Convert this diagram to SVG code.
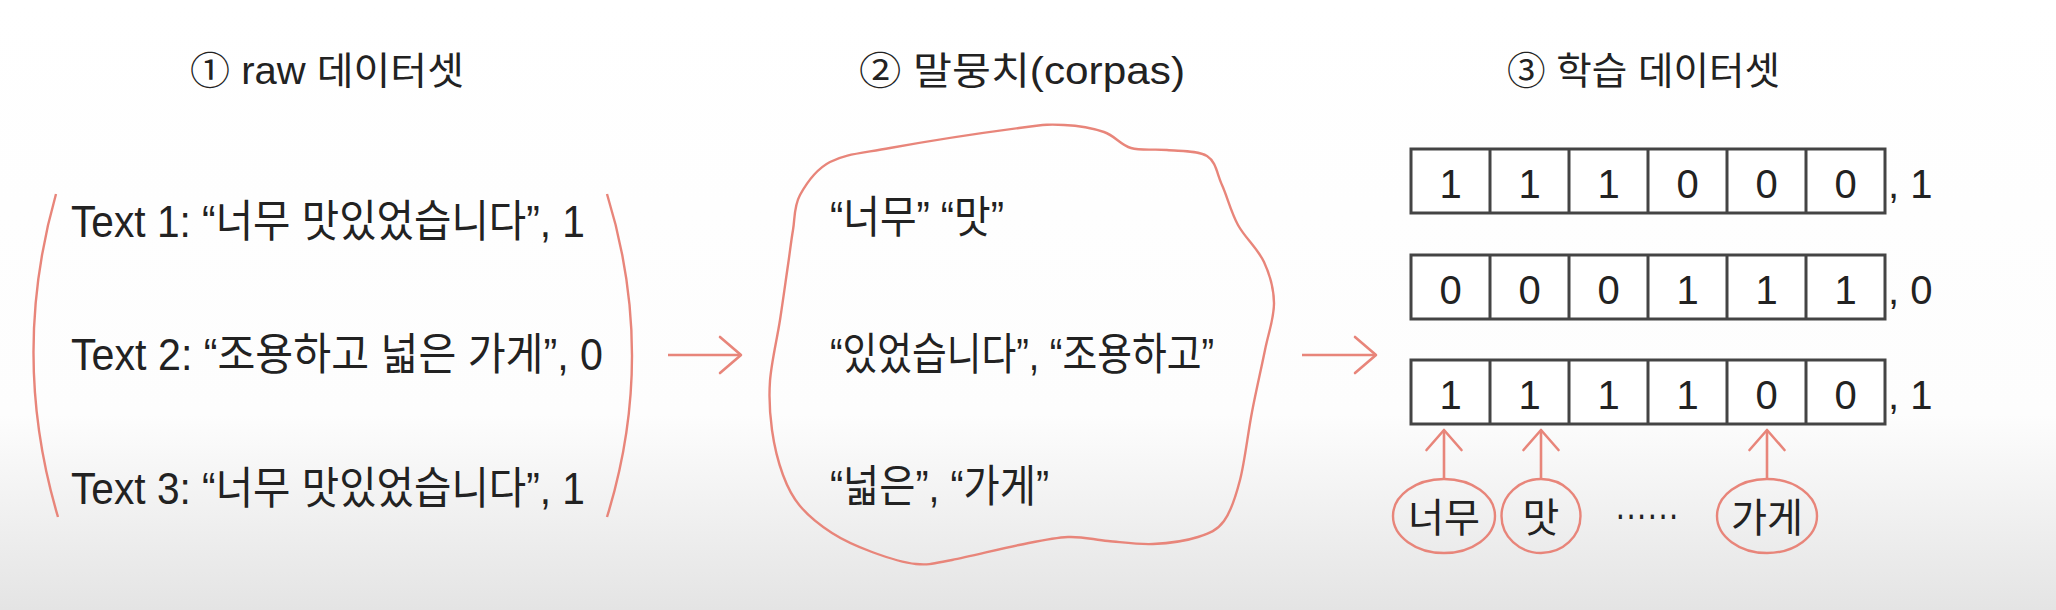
<svg xmlns="http://www.w3.org/2000/svg" width="2056" height="610" viewBox="0 0 2056 610">
<defs>
<linearGradient id="bg" x1="0" y1="0" x2="0" y2="610" gradientUnits="userSpaceOnUse">
<stop offset="0" stop-color="#ffffff"/>
<stop offset="0.68" stop-color="#fdfdfd"/>
<stop offset="1" stop-color="#e4e4e4"/>
</linearGradient>
<marker id="chev" viewBox="-23 -20 26 40" refX="0" refY="0" markerWidth="26" markerHeight="40" markerUnits="userSpaceOnUse" orient="auto">
<path d="M-21,-18 L0,0 L-21,18" fill="none" stroke="#e8857a" stroke-width="2.6" stroke-linecap="round" stroke-linejoin="round"/>
</marker>
<marker id="chevS" viewBox="-23 -20 26 40" refX="0" refY="0" markerWidth="26" markerHeight="40" markerUnits="userSpaceOnUse" orient="auto">
<path d="M-20,-17.5 L0,0 L-20,17.5" fill="none" stroke="#e8857a" stroke-width="2.6" stroke-linecap="round" stroke-linejoin="round"/>
</marker>
</defs>
<style>
.t{font-family:"Liberation Sans","Noto Sans CJK KR",sans-serif;fill:#222;}
.title{font-size:38px;}
.line{font-size:44px;}
.dig{font-size:40px;text-anchor:middle;}
.lab{font-size:40px;}
.red{fill:none;stroke:#e8857a;stroke-width:2.4;}
.cell{fill:#fff;stroke:#444;stroke-width:3;}
.conn{fill:none;stroke:#e8857a;stroke-width:2.6;}
</style>
<rect x="0" y="0" width="2056" height="610" fill="url(#bg)"/>

<g id="title1"><text class="t title" x="190" y="84" textLength="274" lengthAdjust="spacingAndGlyphs">① raw 데이터셋</text></g>
<g id="title2"><text class="t title" x="859" y="84" textLength="326" lengthAdjust="spacingAndGlyphs">② 말뭉치(corpas)</text></g>
<g id="title3"><text class="t title" x="1507" y="84" textLength="273" lengthAdjust="spacingAndGlyphs">③ 학습 데이터셋</text></g>

<g id="raw-dataset">
<path class="red" d="M56,194 Q10,356 58,517"/>
<path class="red" d="M607,194 Q657,356 607,517"/>
<text class="t line" x="71" y="237" textLength="514" lengthAdjust="spacingAndGlyphs">Text 1: “너무 맛있었습니다”, 1</text>
<text class="t line" x="71" y="370" textLength="532" lengthAdjust="spacingAndGlyphs">Text 2: “조용하고 넓은 가게”, 0</text>
<text class="t line" x="71" y="504" textLength="514" lengthAdjust="spacingAndGlyphs">Text 3: “너무 맛있었습니다”, 1</text>
</g>

<g id="corpus">
<path class="red" d="M800,195 C806.2,183.7 815,169.8 830,162 C845,154.2 858.5,153.7 890,148 C921.5,142.3 990,131.8 1019,128 C1048,124.2 1049.8,124.3 1064,125 C1078.2,125.7 1092.8,128.2 1104,132 C1115.2,135.8 1120.5,145 1131,148 C1141.5,151 1154.3,148.7 1167,150 C1179.7,151.3 1197.8,150.2 1207,156 C1216.2,161.8 1216.8,173.5 1222,185 C1227.2,196.5 1231,212.2 1238,225 C1245,237.8 1258,249 1264,262 C1270,275 1273.8,288.3 1274,303 C1274.2,317.7 1268.7,331.8 1265,350 C1261.3,368.2 1256.2,390.3 1252,412 C1247.8,433.7 1244.7,461.8 1240,480 C1235.3,498.2 1231,511.5 1224,521 C1217,530.5 1209.8,533.2 1198,537 C1186.2,540.8 1168,543.3 1153,544 C1138,544.7 1122.2,542.2 1108,541 C1093.8,539.8 1082.8,536.3 1068,537 C1053.2,537.7 1038.3,541.2 1019,545 C999.7,548.8 969.2,556.8 952,560 C934.8,563.2 929.3,565.3 916,564 C902.7,562.7 886,557.2 872,552 C858,546.8 844,540.7 832,533 C820,525.3 808.2,515.7 800,506 C791.8,496.3 787.7,487.7 783,475 C778.3,462.3 774.2,445.7 772,430 C769.8,414.3 768.7,399.3 770,381 C771.3,362.7 777,339.3 780,320 C783,300.7 785.8,280 788,265 C790.2,250 791,241.7 793,230 C795,218.3 793.8,206.3 800,195 Z"/>
<text class="t line" x="830" y="233" textLength="174" lengthAdjust="spacingAndGlyphs">“너무” “맛”</text>
<text class="t line" x="830" y="370" textLength="384" lengthAdjust="spacingAndGlyphs">“있었습니다”, “조용하고”</text>
<text class="t line" x="830" y="502" textLength="219" lengthAdjust="spacingAndGlyphs">“넓은”, “가게”</text>
</g>

<g id="training-row1">
<rect class="cell" x="1411" y="149" width="474" height="64"/>
<path class="cell" d="M1490,149V213M1569,149V213M1648,149V213M1727,149V213M1806,149V213"/>
<text class="t dig" x="1450.5" y="198">1</text><text class="t dig" x="1529.5" y="198">1</text><text class="t dig" x="1608.5" y="198">1</text><text class="t dig" x="1687.5" y="198">0</text><text class="t dig" x="1766.5" y="198">0</text><text class="t dig" x="1845.5" y="198">0</text>
<text class="t lab" x="1888" y="198">, 1</text>
</g>
<g id="training-row2">
<rect class="cell" x="1411" y="255" width="474" height="64"/>
<path class="cell" d="M1490,255V319M1569,255V319M1648,255V319M1727,255V319M1806,255V319"/>
<text class="t dig" x="1450.5" y="304">0</text><text class="t dig" x="1529.5" y="304">0</text><text class="t dig" x="1608.5" y="304">0</text><text class="t dig" x="1687.5" y="304">1</text><text class="t dig" x="1766.5" y="304">1</text><text class="t dig" x="1845.5" y="304">1</text>
<text class="t lab" x="1888" y="304">, 0</text>
</g>
<g id="training-row3">
<rect class="cell" x="1411" y="360" width="474" height="64"/>
<path class="cell" d="M1490,360V424M1569,360V424M1648,360V424M1727,360V424M1806,360V424"/>
<text class="t dig" x="1450.5" y="409">1</text><text class="t dig" x="1529.5" y="409">1</text><text class="t dig" x="1608.5" y="409">1</text><text class="t dig" x="1687.5" y="409">1</text><text class="t dig" x="1766.5" y="409">0</text><text class="t dig" x="1845.5" y="409">0</text>
<text class="t lab" x="1888" y="409">, 1</text>
</g>

<g id="word-neomu">
<ellipse class="red" cx="1444" cy="516" rx="51" ry="37"/>
<text class="t lab" x="1408" y="532" textLength="72" lengthAdjust="spacingAndGlyphs">너무</text>
</g>
<g id="word-mat">
<ellipse class="red" cx="1541" cy="516" rx="39.5" ry="37"/>
<text class="t lab" x="1541" y="532" text-anchor="middle">맛</text>
</g>
<g id="word-ellipsis">
<text class="t lab" x="1615" y="528" textLength="64" lengthAdjust="spacingAndGlyphs">······</text>
</g>
<g id="word-gage">
<ellipse class="red" cx="1767" cy="516" rx="50" ry="37"/>
<text class="t lab" x="1731" y="532" textLength="72" lengthAdjust="spacingAndGlyphs">가게</text>
</g>

<g id="connectors">
<line class="conn" x1="668" y1="355" x2="741" y2="355" marker-end="url(#chev)"/>
<line class="conn" x1="1302" y1="355" x2="1376" y2="355" marker-end="url(#chev)"/>
<line class="conn" x1="1444" y1="479" x2="1444" y2="430" marker-end="url(#chevS)"/>
<line class="conn" x1="1541" y1="479" x2="1541" y2="430" marker-end="url(#chevS)"/>
<line class="conn" x1="1767" y1="479" x2="1767" y2="430" marker-end="url(#chevS)"/>
</g>
</svg>
